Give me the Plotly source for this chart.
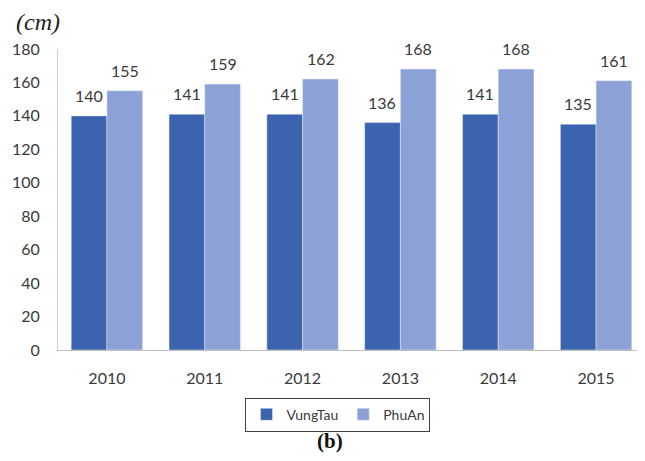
import plotly.graph_objects as go

years = ["2010", "2011", "2012", "2013", "2014", "2015"]
vungtau = [140, 141, 141, 136, 141, 135]
phuan = [155, 159, 162, 168, 168, 161]
yticks = [0, 20, 40, 60, 80, 100, 120, 140, 160, 180]

font_main = "Lato, Open Sans, sans-serif"
txt_color = "#3a3a3a"

fig = go.Figure()
fig.add_trace(go.Bar(name="VungTau", x=years, y=vungtau, marker_color="#3B63AE"))
fig.add_trace(go.Bar(name="PhuAn", x=years, y=phuan, marker_color="#8CA2D6"))

annotations = []
for series, xs in ((vungtau, -18), (phuan, 18)):
    for i, v in enumerate(series):
        # category index (number-like category names would be read as serial numbers)
        annotations.append(dict(x=i, y=v, xref="x", yref="y", text=str(v),
                                showarrow=False, xanchor="center", yanchor="bottom",
                                xshift=xs, yshift=9,
                                font=dict(size=16, color=txt_color, family=font_main)))

annotations += [
    dict(text="<i>(cm)</i>", xref="paper", yref="paper", x=-0.075, y=1.09,
         xanchor="left", yanchor="middle", showarrow=False,
         font=dict(family="Liberation Serif, Times New Roman, serif", size=24, color="#222")),
    dict(text="<b>(b)</b>", xref="paper", yref="paper", x=0.463, y=-0.302,
         xanchor="center", yanchor="middle", showarrow=False,
         font=dict(family="Liberation Serif, Times New Roman, serif", size=21, color="#111")),
]

fig.update_layout(
    width=637, height=453,
    margin=dict(l=50, r=0, t=41, b=111),
    paper_bgcolor="white", plot_bgcolor="white",
    barmode="group", bargap=0.27, bargroupgap=0,
    font=dict(family=font_main, size=16, color=txt_color),
    showlegend=True,
    legend=dict(orientation="h", x=0.477, y=-0.215, xanchor="center", yanchor="middle",
                bordercolor="#404040", borderwidth=1, font=dict(size=14, color=txt_color),
                itemwidth=30, tracegroupgap=0),
    xaxis=dict(type="category", showline=True, linecolor="#bfbfbf", linewidth=1, ticks="",
               tickfont=dict(size=16, color=txt_color), showgrid=False,
               ticklabelstandoff=14),
    yaxis=dict(range=[0, 180], tickvals=yticks, showline=True, linecolor="#d0d0d0",
               linewidth=1, showgrid=False, zeroline=False, ticks="", ticklen=0,
               tickfont=dict(size=16, color=txt_color), ticklabelstandoff=14),
    annotations=annotations,
)

fig.write_html("out.html")
